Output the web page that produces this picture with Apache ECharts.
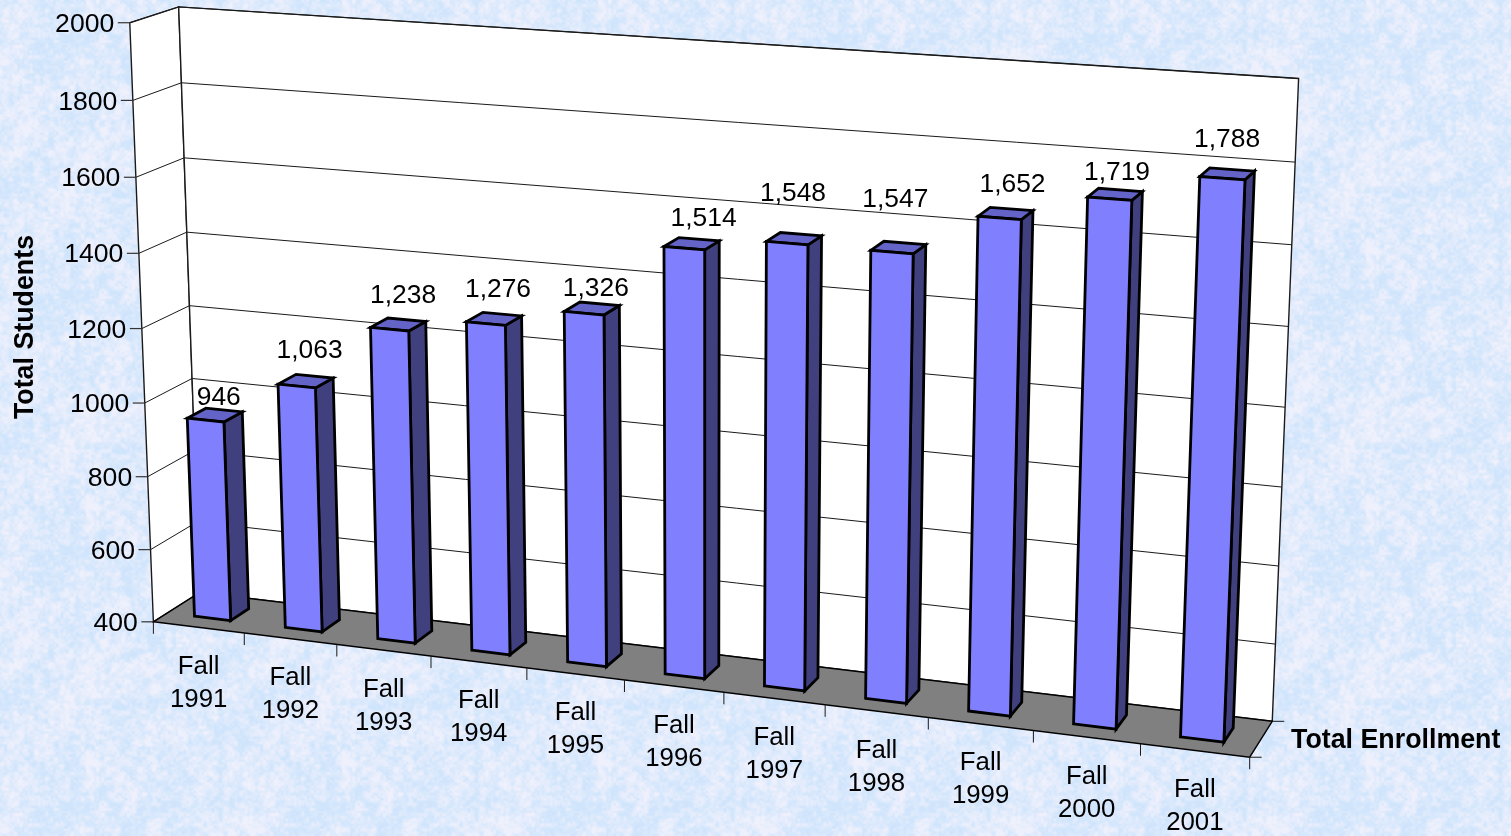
<!DOCTYPE html>
<html><head><meta charset="utf-8">
<style>html,body{margin:0;padding:0;width:1511px;height:836px;overflow:hidden}#c{width:1511px;height:836px}</style>
<script src="https://cdn.jsdelivr.net/npm/echarts@6/dist/echarts.min.js"></script>
</head><body><div id="c"></div>
<script>
// ---------- data ----------
const categories = ['Fall\n1991','Fall\n1992','Fall\n1993','Fall\n1994','Fall\n1995','Fall\n1996','Fall\n1997','Fall\n1998','Fall\n1999','Fall\n2000','Fall\n2001'];
const enrollment = [946,1063,1238,1276,1326,1514,1548,1547,1652,1719,1788];
const yTicks = [400,600,800,1000,1200,1400,1600,1800,2000];
const yAxisTitle = 'Total Students';
const depthAxisTitle = 'Total Enrollment';

// ---------- hand-placed label nudges of the original, px relative to the bar-top centre ----------
const labelNudge = [[4,-19],[4,-32],[5,-31],[4,-31],[4,-22],[12,-27],[-1,-47],[-3,-50],[7,-31],[2,-23],[0,-36]];

// ---------- camera calibration: frame of the 3D box on the page ----------
const frontLeftY  = [622,549,476,402,328,252,177,100,23];
const backLeftY   = [592.5,522,451,379,306,232,158,83,7];
const backRightY  = [721,643,565,487,407,327,244,162,79];
const frontTicksX = [153.5,244,336,431,527,625,724,825,927,1033,1141,1249.3];

function fitCamera(){
  const pts=[]; // [x,y,z,u,v,weight]
  const n=frontLeftY.length-1;
  const w=i=>(i===n||i===0?3:1);
  frontLeftY.forEach((v,i)=>pts.push([0,i/n,0,153.5-23.5*(622-v)/599,v,w(i)]));
  backLeftY.forEach((v,i)=>pts.push([0,i/n,1,200-21.7*(592.5-v)/585.5,v,w(i)]));
  backRightY.forEach((v,i)=>pts.push([1,i/n,1,1272.3+26.4*(721-v)/642,v,w(i)]));
  frontTicksX.forEach((u,i)=>pts.push([i/(frontTicksX.length-1),0,0,u,622+(u-153.5)*135.7/1095.8,1]));
  const N=11,A=[...Array(N)].map(()=>Array(N+1).fill(0));
  const add=(r,b,k)=>{for(let i=0;i<N;i++){for(let j=0;j<N;j++)A[i][j]+=k*r[i]*r[j];A[i][N]+=k*r[i]*b;}};
  pts.forEach(([x,y,z,u,v,k])=>{u/=1000;v/=1000;
    add([x,y,z,1,0,0,0,0,-u*x,-u*y,-u*z],u,k);
    add([0,0,0,0,x,y,z,1,-v*x,-v*y,-v*z],v,k);});
  for(let c=0;c<N;c++){let m=c;for(let r=c+1;r<N;r++)if(Math.abs(A[r][c])>Math.abs(A[m][c]))m=r;
    [A[c],A[m]]=[A[m],A[c]];
    for(let r=0;r<N;r++){if(r===c)continue;const f=A[r][c]/A[c][c];for(let j=c;j<=N;j++)A[r][j]-=f*A[c][j];}}
  return A.map((r,i)=>r[N]/r[i]);
}
const P=fitCamera();
function project(x,y,z){
  const w=P[8]*x+P[9]*y+P[10]*z+1;
  return [1000*(P[0]*x+P[1]*y+P[2]*z+P[3])/w,1000*(P[4]*x+P[5]*y+P[6]*z+P[7])/w];
}

// ---------- background texture (deterministic tile, decoration only) ----------
function makeTile(){
  const S=256,c=document.createElement('canvas');c.width=c.height=S;
  const g=c.getContext('2d'),img=g.createImageData(S,S);
  const hash=(x,y,s)=>{const t=Math.sin(x*127.1+y*311.7+s*74.7)*43758.5453;return t-Math.floor(t);};
  const noise=(x,y,cell,s)=>{const n=Math.round(S/cell),fx=x/cell,fy=y/cell,x0=Math.floor(fx),y0=Math.floor(fy);
    const tx=fx-x0,ty=fy-y0,sx=tx*tx*(3-2*tx),sy=ty*ty*(3-2*ty);
    const h=(a,b)=>hash(((a%n)+n)%n,((b%n)+n)%n,s);
    return (h(x0,y0)*(1-sx)+h(x0+1,y0)*sx)*(1-sy)+(h(x0,y0+1)*(1-sx)+h(x0+1,y0+1)*sx)*sy;};
  for(let y=0;y<S;y++)for(let x=0;x<S;x++){
    let t=.22*noise(x,y,32,1)+.22*noise(x,y,12.8,2)+.30*noise(x,y,5.12,3)+.26*noise(x,y,2.56,4);
    t=Math.max(0,Math.min(1,(t-.5)*2.6+.5));
    const i=(y*S+x)*4;
    img.data[i]=208+t*30;img.data[i+1]=229+t*11;img.data[i+2]=252;img.data[i+3]=255;
  }
  g.putImageData(img,0,0);return c;
}

// ---------- styling ----------
const FONT='"Liberation Sans", Arial, sans-serif';
const TICK=12, TEXT_DY=1.8;
const gridStroke={stroke:'#1a1a1a',lineWidth:1,fill:null};
const barLine={stroke:'#000',lineWidth:2.8,lineJoin:'miter',miterLimit:4};
const BAR_X0=.3,BAR_X1=.7,BAR_Z0=.3,BAR_Z1=.7;

const line=(pts,style)=>({type:'polyline',shape:{points:pts},style,silent:true});
const poly=(pts,fill,stroke)=>({type:'polygon',shape:{points:pts},style:Object.assign({fill},stroke),silent:true});
const text=(s,x,y,align,size)=>({type:'text',silent:true,style:{text:s,x,y:y+TEXT_DY,align,verticalAlign:'middle',textAlign:align,textVerticalAlign:'middle',fontFamily:FONT,fontSize:size,fill:'#000',lineHeight:33}});

function norm(params,api,cat,val){ // through the chart's hidden cartesian scales
  const c=api.coord([cat,val]),r=params.coordSys;
  return [(c[0]-r.x)/r.width,(r.y+r.height-c[1])/r.height];
}

function renderFrame(params,api){
  const L=project(0,0,0),LB=project(0,0,1),RB=project(1,0,1),RF=project(1,0,0);
  const LT=project(0,1,0),LBT=project(0,1,1),RBT=project(1,1,1);
  const edge={stroke:'#1a1a1a',lineWidth:1.4};
  return {type:'group',children:[
    poly([L,LT,LBT,LB],'#fff',edge),
    poly([LB,LBT,RBT,RB],'#fff',edge),
    poly([L,LB,RB,RF],'#808080',{stroke:'#000',lineWidth:1.4}),
    line([RF,[RF[0]+TICK,RF[1]]],gridStroke),
    line([RB,[RB[0]+TICK,RB[1]]],gridStroke)
  ]};
}
function renderY(params,api){
  const v=api.value(1),y=norm(params,api,0,v)[1];
  const a=project(0,y,0),b=project(0,y,1),c=project(1,y,1);
  const ch=[line([[a[0]-TICK,a[1]],a],{stroke:'#333',lineWidth:1.2,fill:null}),text(String(v),a[0]-TICK-3.5,a[1],'right',26.6)];
  if(v>400)ch.unshift(line([a,b,c],gridStroke));
  return {type:'group',children:ch};
}
function renderX(params,api){
  const i=api.value(0),n=categories.length;
  const x0=norm(params,api,i,400)[0];const band=1/n;
  const lo=x0-band/2,hi=x0+band/2;
  const a=project(hi,0,0),l=project(lo,0,0),m=project(x0,0,0);
  const ch=[line([a,[a[0],a[1]+TICK]],gridStroke),text(categories[i],m[0],m[1]+54,'center',25.8)];
  if(i===0)ch.push(line([l,[l[0],l[1]+TICK]],gridStroke));
  return {type:'group',children:ch};
}
function renderBar(params,api){
  const i=api.value(0),v=api.value(1);
  const t=norm(params,api,i,v),xc=t[0],y=t[1],band=api.size([1,0])[0]/params.coordSys.width;
  const x0=xc+(BAR_X0-.5)*band,x1=xc+(BAR_X1-.5)*band;
  const A=project(x0,0,BAR_Z0),B=project(x1,0,BAR_Z0),C=project(x1,0,BAR_Z1);
  const D=project(x0,y,BAR_Z0),E=project(x1,y,BAR_Z0),F=project(x1,y,BAR_Z1),G=project(x0,y,BAR_Z1);
  const cx=(D[0]+F[0])/2,cy=(D[1]+F[1])/2,nu=labelNudge[i];
  return {type:'group',children:[
    poly([B,C,F,E],'#40407f',barLine),
    poly([D,G,F,E],'#6464c8',barLine),
    poly([A,B,E,D],'#8080ff',barLine),
    text(v.toLocaleString('en-US'),cx+nu[0],cy+nu[1],'center',26.4)
  ]};
}

const chart=echarts.init(document.getElementById('c'),null,{renderer:'canvas',width:1511,height:836});
chart.setOption({
  animation:false,
  backgroundColor:{image:makeTile(),repeat:'repeat'},
  grid:{left:100,top:100,width:1100,height:500,containLabel:false},
  xAxis:{type:'category',data:categories,show:false},
  yAxis:{type:'value',min:400,max:2000,interval:200,show:false},
  tooltip:{show:false},
  series:[
    {type:'custom',name:'frame',clip:false,z:1,renderItem:renderFrame,data:[[0,400]],silent:true},
    {type:'custom',name:'y ticks',clip:false,z:2,renderItem:renderY,data:yTicks.map(v=>[0,v]),silent:true},
    {type:'custom',name:'x ticks',clip:false,z:2,renderItem:renderX,data:categories.map((c,i)=>[i,400]),silent:true},
    {type:'custom',name:'Total Enrollment',clip:false,z:3,renderItem:renderBar,data:enrollment.map((v,i)=>[i,v]),silent:true}
  ],
  graphic:[
    {type:'text',rotation:Math.PI/2,x:26,y:327,silent:true,style:{text:yAxisTitle,fontFamily:FONT,fontWeight:'bold',fontSize:26.8,fill:'#000',align:'center',verticalAlign:'middle'}},
    {type:'text',x:1291,y:741,silent:true,style:{text:depthAxisTitle,fontFamily:FONT,fontWeight:'bold',fontSize:26.8,fill:'#000',align:'left',verticalAlign:'middle'}}
  ]
});
</script></body></html>
